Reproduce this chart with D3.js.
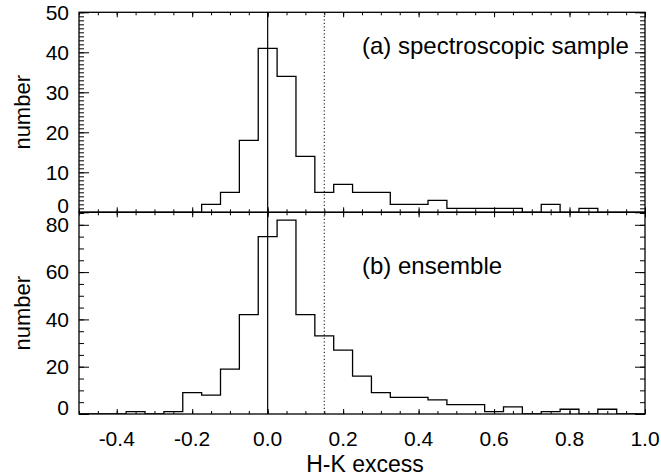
<!DOCTYPE html>
<html>
<head>
<meta charset="utf-8">
<script src="https://cdn.jsdelivr.net/npm/d3@7"></script>
<style>
  body { margin: 0; background: #fff; }
  svg text { font-family: "Liberation Sans", Arial, sans-serif; fill: #000; }
</style>
</head>
<body>
<script>
// bin centres of the H-K excess histograms (width 0.05)
var binCenters = [-0.45, -0.40, -0.35, -0.30, -0.25, -0.20, -0.15, -0.10, -0.05,
                  0.00, 0.05, 0.10, 0.15, 0.20, 0.25, 0.30, 0.35, 0.40, 0.45,
                  0.50, 0.55, 0.60, 0.65, 0.70, 0.75, 0.80, 0.85, 0.90, 0.95];
var binWidth = 0.05;

// (a) spectroscopic sample
var spectroCounts = [0, 0, 0, 0, 0, 0, 2, 5, 18,
                     41, 34, 14, 5, 7, 5, 5, 2, 2, 3,
                     1, 1, 1, 1, 0, 2, 0, 1, 0, 0];
// (b) ensemble
var ensembleCounts = [0, 0, 1, 0, 1, 9, 8, 19, 42,
                      75, 82, 42, 33, 27, 16, 9, 7, 7, 6,
                      4, 4, 1, 3, 0, 1, 2, 0, 2, 0];

var xTicks = [-0.4, -0.2, 0.0, 0.2, 0.4, 0.6, 0.8, 1.0];
var yTicksA = [0, 10, 20, 30, 40, 50];
var yTicksB = [0, 20, 40, 60, 80];
var zeroLine = 0.0;
var dottedLine = 0.15;

var W = 661, H = 476;
var plotLeft = 79, plotRight = 645, plotTop = 12.3, plotMid = 212.3, plotBottom = 414;

var svg = d3.select("body").append("svg")
    .attr("width", W)
    .attr("height", H);

var x = d3.scaleLinear().domain([-0.5, 1.0]).range([plotLeft, plotRight]);
var yA = d3.scaleLinear().domain([0, 50]).range([plotMid, plotTop]);
var yB = d3.scaleLinear().domain([0, (plotBottom - plotMid) / 2.365]).range([plotBottom, plotMid]);

var minorX = d3.range(-0.5, 1.0001, 0.05);

function stepPoints(counts) {
    var pts = [[-0.5, 0]];
    binCenters.forEach(function (c, i) {
        pts.push([c - binWidth / 2, counts[i]]);
        pts.push([c + binWidth / 2, counts[i]]);
    });
    pts.push([1.0, 0]);
    return pts;
}

function panel(y, counts, yTicks, minorStep, label, labelY, zeroShift, id) {
    var g = svg.append("g");
    var y0 = y.range()[0], y1 = y.range()[1];

    var clipId = "clip" + id;
    svg.append("clipPath").attr("id", clipId)
        .append("rect")
        .attr("x", plotLeft).attr("y", y1)
        .attr("width", plotRight - plotLeft).attr("height", y0 - y1);

    // histogram
    g.append("path")
        .attr("clip-path", "url(#" + clipId + ")")
        .attr("d", d3.line()
            .x(function (d) { return x(d[0]); })
            .y(function (d) { return y(d[1]); })(stepPoints(counts)))
        .attr("fill", "none")
        .attr("stroke", "#000")
        .attr("stroke-width", 1.3);

    // y ticks, minor then major, inward on both sides
    var ymax = y.domain()[1];
    var minorY = d3.range(0, ymax + 0.001, minorStep);
    g.append("g").attr("transform", "translate(" + plotLeft + ",0)")
        .call(d3.axisLeft(y).tickValues(minorY).tickSize(-5).tickFormat(""));
    g.append("g").attr("transform", "translate(" + plotRight + ",0)")
        .call(d3.axisRight(y).tickValues(minorY).tickSize(-5).tickFormat(""));
    var yl = g.append("g").attr("transform", "translate(" + plotLeft + ",0)")
        .call(d3.axisLeft(y).tickValues(yTicks).tickSize(-10).tickPadding(10)
            .tickFormat(d3.format("d")));
    yl.selectAll("text")
        .style("font-size", "21px")
        .attr("y", function (d) { return d === 0 ? -zeroShift : 0; });
    g.append("g").attr("transform", "translate(" + plotRight + ",0)")
        .call(d3.axisRight(y).tickValues(yTicks).tickSize(-10).tickFormat(""));

    // x ticks on top and bottom of the panel
    g.append("g").attr("transform", "translate(0," + y1 + ")")
        .call(d3.axisTop(x).tickValues(minorX).tickSize(-3).tickFormat(""));
    g.append("g").attr("transform", "translate(0," + y1 + ")")
        .call(d3.axisTop(x).tickValues(xTicks).tickSize(-5).tickFormat(""));
    g.append("g").attr("transform", "translate(0," + y0 + ")")
        .call(d3.axisBottom(x).tickValues(minorX).tickSize(-3).tickFormat(""));
    g.append("g").attr("transform", "translate(0," + y0 + ")")
        .call(d3.axisBottom(x).tickValues(xTicks).tickSize(-5).tickFormat(""));

    g.selectAll(".domain").remove();
    g.selectAll(".tick line").attr("stroke", "#000").attr("stroke-width", 1);

    g.append("rect")
        .attr("x", plotLeft).attr("y", y1)
        .attr("width", plotRight - plotLeft).attr("height", y0 - y1)
        .attr("fill", "none").attr("stroke", "#000").attr("stroke-width", 1.3);

    g.append("text")
        .attr("x", 362).attr("y", labelY)
        .style("font-size", "24px")
        .text(label);

    g.append("text")
        .attr("transform", "translate(30," + (y0 + y1) / 2 + ") rotate(-90)")
        .attr("text-anchor", "middle")
        .style("font-size", "22px")
        .text("number");
}

panel(yA, spectroCounts, yTicksA, 1, "(a) spectroscopic sample", 54, 7, "a");
panel(yB, ensembleCounts, yTicksB, 5, "(b) ensemble", 274, 6, "b");

// reference lines across both panels
svg.append("line")
    .attr("x1", x(zeroLine)).attr("x2", x(zeroLine))
    .attr("y1", plotTop).attr("y2", plotBottom)
    .attr("stroke", "#000").attr("stroke-width", 1.2);
svg.append("line")
    .attr("x1", x(dottedLine)).attr("x2", x(dottedLine))
    .attr("y1", plotTop).attr("y2", plotBottom)
    .attr("stroke", "#000").attr("stroke-width", 1)
    .attr("stroke-dasharray", "1.2,2.3");

// bottom x labels
svg.append("g").selectAll("text")
    .data(xTicks)
    .join("text")
    .attr("x", function (d) { return x(d); })
    .attr("y", 446)
    .attr("text-anchor", "middle")
    .style("font-size", "21px")
    .text(function (d) { return d3.format(".1f")(d).replace("−", "-"); });

svg.append("text")
    .attr("x", (plotLeft + plotRight) / 2 + 3)
    .attr("y", 472)
    .attr("text-anchor", "middle")
    .style("font-size", "23px")
    .text("H-K excess");
</script>
</body>
</html>
